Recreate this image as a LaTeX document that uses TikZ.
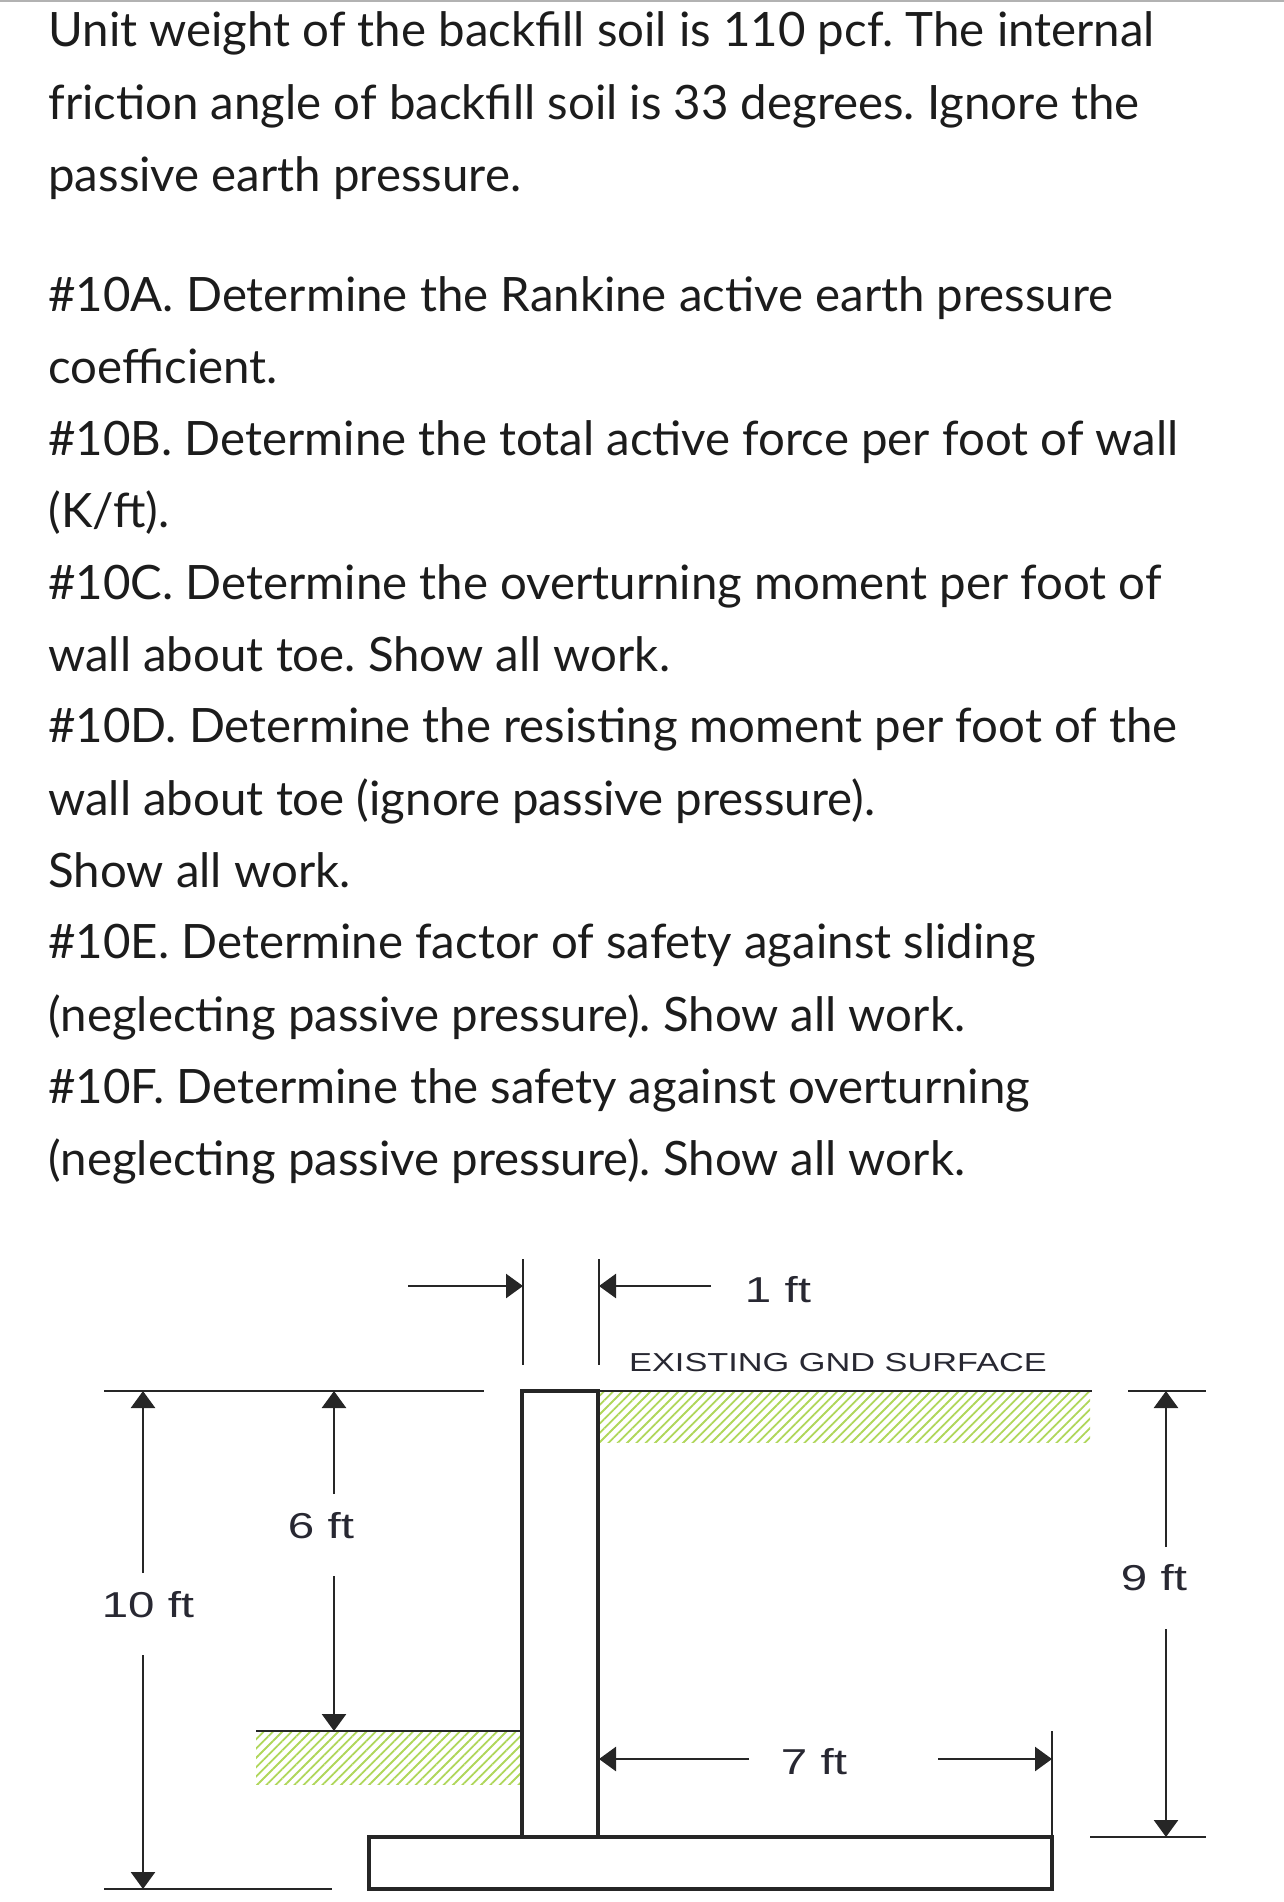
\documentclass[tikz,border=0pt]{standalone}
\usepackage{fontspec}
\usepackage{xcolor}
\setmainfont{Lato}
\newfontfamily\dimfont[FakeStretch=1.32]{Liberation Sans}
\usetikzlibrary{arrows.meta,patterns.meta}
\definecolor{soilgreen}{RGB}{175,214,90}
\definecolor{inktext}{RGB}{28,28,28}
\definecolor{dimtext}{RGB}{40,40,50}
\tikzset{
    qtext/.style={anchor=base west, inner sep=0pt, font=\fontsize{23.7}{28}\selectfont\frenchspacing, text=inktext},
    dimlabel/.style={inner sep=0pt, font=\dimfont\fontsize{18}{21}\selectfont, text=dimtext},
    gndlabel/.style={inner sep=0pt, font=\dimfont\fontsize{13}{15}\selectfont, text=dimtext},
    dimline/.style={line width=1.3pt, black!85},
    dimarrow/.style={dimline, -{Triangle[length=8.5pt,width=12pt]}},
    wallline/.style={line width=2.3pt, black!85},
    soilhatch/.style={pattern={Lines[angle=45,distance=3.3pt,line width=0.9pt]}, pattern color=soilgreen}
}
\begin{document}
\begin{tikzpicture}[x=0.5pt, y=-0.5pt]
    \useasboundingbox (0,0) rectangle (1284,1902);
    % strip along the top edge
    \coordinate (topl) at (0,1);
    \coordinate (topr) at (1284,1);
    \draw[line width=1pt, black!30] (topl) -- (topr);
    % question text
    \node[qtext] (line1) at (48,46) {Unit weight of the backfill soil is 110 pcf. The internal};
    \node[qtext] (line2) at (48,119) {friction angle of backfill soil is 33 degrees. Ignore the};
    \node[qtext] (line3) at (48,191) {passive earth pressure.};
    \node[qtext] (line4) at (48,311) {\#10A. Determine the Rankine active earth pressure};
    \node[qtext] (line5) at (48,383) {coefficient.};
    \node[qtext] (line6) at (48,455) {\#10B. Determine the total active force per foot of wall};
    \node[qtext] (line7) at (48,527) {(K/ft).};
    \node[qtext] (line8) at (48,599) {\#10C. Determine the overturning moment per foot of};
    \node[qtext] (line9) at (48,671) {wall about toe. Show all work.};
    \node[qtext] (line10) at (48,742) {\#10D. Determine the resisting moment per foot of the};
    \node[qtext] (line11) at (48,815) {wall about toe (ignore passive pressure).};
    \node[qtext] (line12) at (48,887) {Show all work.};
    \node[qtext] (line13) at (48,958) {\#10E. Determine factor of safety against sliding};
    \node[qtext] (line14) at (48,1031) {(neglecting passive pressure). Show all work.};
    \node[qtext] (line15) at (48,1103) {\#10F. Determine the safety against overturning};
    \node[qtext] (line16) at (48,1175) {(neglecting passive pressure). Show all work.};
    % soil
    \fill[soilhatch] (598,1392) rectangle (1090,1442);
    \fill[soilhatch] (256,1732) rectangle (521,1784);
    % wall and base
    \coordinate (wallnw) at (522,1391);
    \coordinate (wallse) at (598,1837);
    \coordinate (basenw) at (369,1837);
    \coordinate (basese) at (1052,1889);
    \draw[wallline] (wallnw) rectangle (wallse);
    \draw[wallline] (basenw) rectangle (basese);
    % surface lines
    \coordinate (lefttopa) at (104,1391);
    \coordinate (lefttopb) at (484,1391);
    \coordinate (leftbota) at (104,1889);
    \coordinate (leftbotb) at (332,1889);
    \coordinate (toea) at (256,1731);
    \coordinate (toeb) at (522,1731);
    \coordinate (heela) at (598,1391);
    \coordinate (heelb) at (1092,1391);
    \draw[dimline] (lefttopa) -- (lefttopb);
    \draw[dimline] (leftbota) -- (leftbotb);
    \draw[dimline] (toea) -- (toeb);
    \draw[dimline] (heela) -- (heelb);
    % 1 ft
    \node[dimlabel] (oneft) at (778,1290) {1 ft};
    \coordinate (tickaup) at (523,1259);
    \coordinate (tickadn) at (523,1365);
    \coordinate (tickbup) at (599,1259);
    \coordinate (tickbdn) at (599,1365);
    \coordinate (onea) at (408,1286);
    \coordinate (oneb) at (523,1286);
    \coordinate (onec) at (711,1286);
    \coordinate (oned) at (599,1286);
    \draw[dimline] (tickaup) -- (tickadn);
    \draw[dimline] (tickbup) -- (tickbdn);
    \draw[dimarrow] (onea) -- (oneb);
    \draw[dimarrow] (onec) -- (oned);
    \node[gndlabel] (gndtext) at (838,1363) {EXISTING GND SURFACE};
    % 10 ft
    \node[dimlabel] (tenft) at (148,1605) {10 ft};
    \coordinate (tena) at (143,1573);
    \coordinate (tenb) at (143,1391);
    \coordinate (tenc) at (143,1655);
    \coordinate (tend) at (143,1889);
    \draw[dimarrow] (tena) -- (tenb);
    \draw[dimarrow] (tenc) -- (tend);
    % 6 ft
    \node[dimlabel] (sixft) at (321,1526) {6 ft};
    \coordinate (sixa) at (334,1494);
    \coordinate (sixb) at (334,1391);
    \coordinate (sixc) at (334,1576);
    \coordinate (sixd) at (334,1731);
    \draw[dimarrow] (sixa) -- (sixb);
    \draw[dimarrow] (sixc) -- (sixd);
    % 7 ft
    \node[dimlabel] (sevenft) at (814,1762) {7 ft};
    \coordinate (sevena) at (749,1759);
    \coordinate (sevenb) at (599,1759);
    \coordinate (sevenc) at (938,1759);
    \coordinate (sevend) at (1052,1759);
    \coordinate (ticka) at (1052,1731);
    \coordinate (tickb) at (1052,1837);
    \draw[dimline] (ticka) -- (tickb);
    \draw[dimarrow] (sevena) -- (sevenb);
    \draw[dimarrow] (sevenc) -- (sevend);
    % 9 ft
    \node[dimlabel] (nineft) at (1154,1578) {9 ft};
    \coordinate (ninetopa) at (1128,1391);
    \coordinate (ninetopb) at (1206,1391);
    \coordinate (ninebota) at (1090,1837);
    \coordinate (ninebotb) at (1206,1837);
    \coordinate (ninea) at (1166,1547);
    \coordinate (nineb) at (1166,1391);
    \coordinate (ninec) at (1166,1629);
    \coordinate (nined) at (1166,1837);
    \draw[dimline] (ninetopa) -- (ninetopb);
    \draw[dimline] (ninebota) -- (ninebotb);
    \draw[dimarrow] (ninea) -- (nineb);
    \draw[dimarrow] (ninec) -- (nined);
\end{tikzpicture}
\end{document}
